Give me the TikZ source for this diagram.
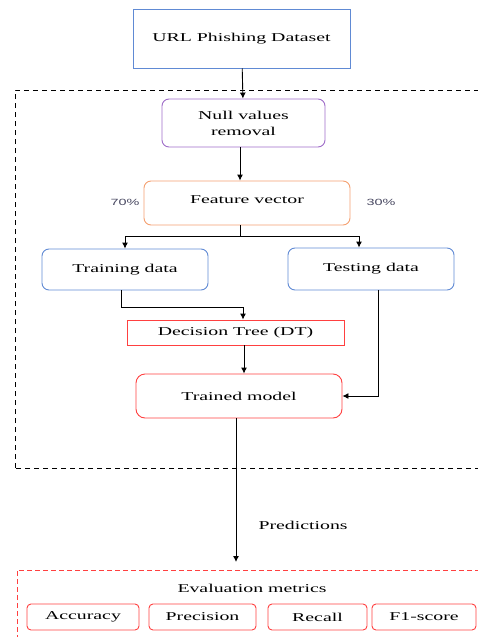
\documentclass[tikz,border=0pt]{standalone}
\usepackage{fontspec}
\setmainfont[FakeStretch=1.65]{Liberation Serif}
\newfontfamily\pctfont[FakeStretch=1.6]{Liberation Sans}
\usetikzlibrary{arrows.meta}
\usetikzlibrary{positioning}
\definecolor{boxblue}{RGB}{96,138,212}
\definecolor{boxpurple}{RGB}{158,108,200}
\definecolor{boxorange}{RGB}{244,160,112}
\definecolor{boxred}{RGB}{255,64,64}
\definecolor{pctgray}{RGB}{70,70,95}
\tikzset{
	flow/.style={draw, line width=0.9pt, minimum height=#1, inner sep=0pt, align=center, font=\fontsize{12}{16}\selectfont},
	roundbox/.style={flow=#1, rounded corners=7pt},
	metricbox/.style={draw=boxred, line width=0.9pt, rounded corners=4pt, minimum height=26pt, inner sep=0pt, font=\fontsize{12}{13}\selectfont},
	link/.style={line width=0.9pt, -{Latex[length=6pt,width=6pt]}},
	plain/.style={line width=0.9pt}
}

\begin{document}
\begin{tikzpicture}[x=1pt,y=-1pt]
	\useasboundingbox (0,0) rectangle (477,637);
	% frames
	\draw[dashed, line width=0.9pt, dash pattern=on 5pt off 4pt] (15,468) -- (15,90) -- (480,90);
	\draw[dashed, line width=0.9pt, dash pattern=on 5pt off 4pt] (480,468) -- (15,468);
	\draw[boxred, dashed, line width=0.9pt, dash pattern=on 5pt off 3pt] (17,640) -- (17,570) -- (480,570);
	% boxes
	\node[flow=59pt, draw=boxblue, minimum width=217pt] (dataset) at (241.5,38.5) {URL Phishing Dataset};
	\node[roundbox=48pt, draw=boxpurple, minimum width=163pt] (nullrm) at (243.5,123) {Null values\\removal};
	\node[roundbox=44pt, draw=boxorange, minimum width=206pt, text depth=6pt] (feature) at (247,203) {Feature vector};
	\node[roundbox=41pt, draw=boxblue, minimum width=166pt] (train) at (125,269.5) {Training data};
	\node[roundbox=42pt, draw=boxblue, minimum width=166pt] (test) at (371,269) {Testing data};
	\node[flow=25pt, draw=boxred, minimum width=217pt] (dt) at (235.5,332.5) {Decision Tree (DT)};
	\node[roundbox=44pt, draw=boxred, minimum width=206pt, rounded corners=9pt] (trained) at (239,396) {Trained model};
	% labels
	\node[text=pctgray, font=\pctfont\fontsize{9}{10}\selectfont] (p70) at (125,202) {70\%};
	\node[text=pctgray, font=\pctfont\fontsize{9}{10}\selectfont] (p30) at (381,202) {30\%};
	\node[font=\fontsize{12}{13}\selectfont, anchor=west] (pred) at (255,525) {Predictions};
	\node[font=\fontsize{12}{13}\selectfont] (evalm) at (252,588) {Evaluation metrics};
	% metrics
	\node[metricbox, minimum width=112pt] (acc) at (83,617) {Accuracy};
	\node[metricbox, minimum width=107pt] (prec) at (202.5,617) {Precision};
	\node[metricbox, minimum width=99pt] (rec) at (317.5,617) {Recall};
	\node[metricbox, minimum width=104pt] (fone) at (424,617) {F1-score};
	% connectors
	\coordinate (split) at (240,236);
	\coordinate (evaltop) at (236,562);
	\draw[link] (dataset) -- (nullrm);
	\draw[link] (nullrm.south -| 240,0) -- (feature.north -| 240,0);
	\draw[plain] (feature.south -| split) -- (split);
	\draw[link] (split) -| (train.north);
	\draw[link] (split) -| (test.north -| 359,0);
	\draw[link] (train.south -| 121,0) |- (243,307) -- (dt.north -| 243,0);
	\draw[link] (dt.south -| 244,0) -- (trained.north -| 244,0);
	\draw[link] (test.south -| 378,0) |- (trained.east);
	\draw[link] (trained.south -| evaltop) -- (evaltop);
\end{tikzpicture}
\end{document}
